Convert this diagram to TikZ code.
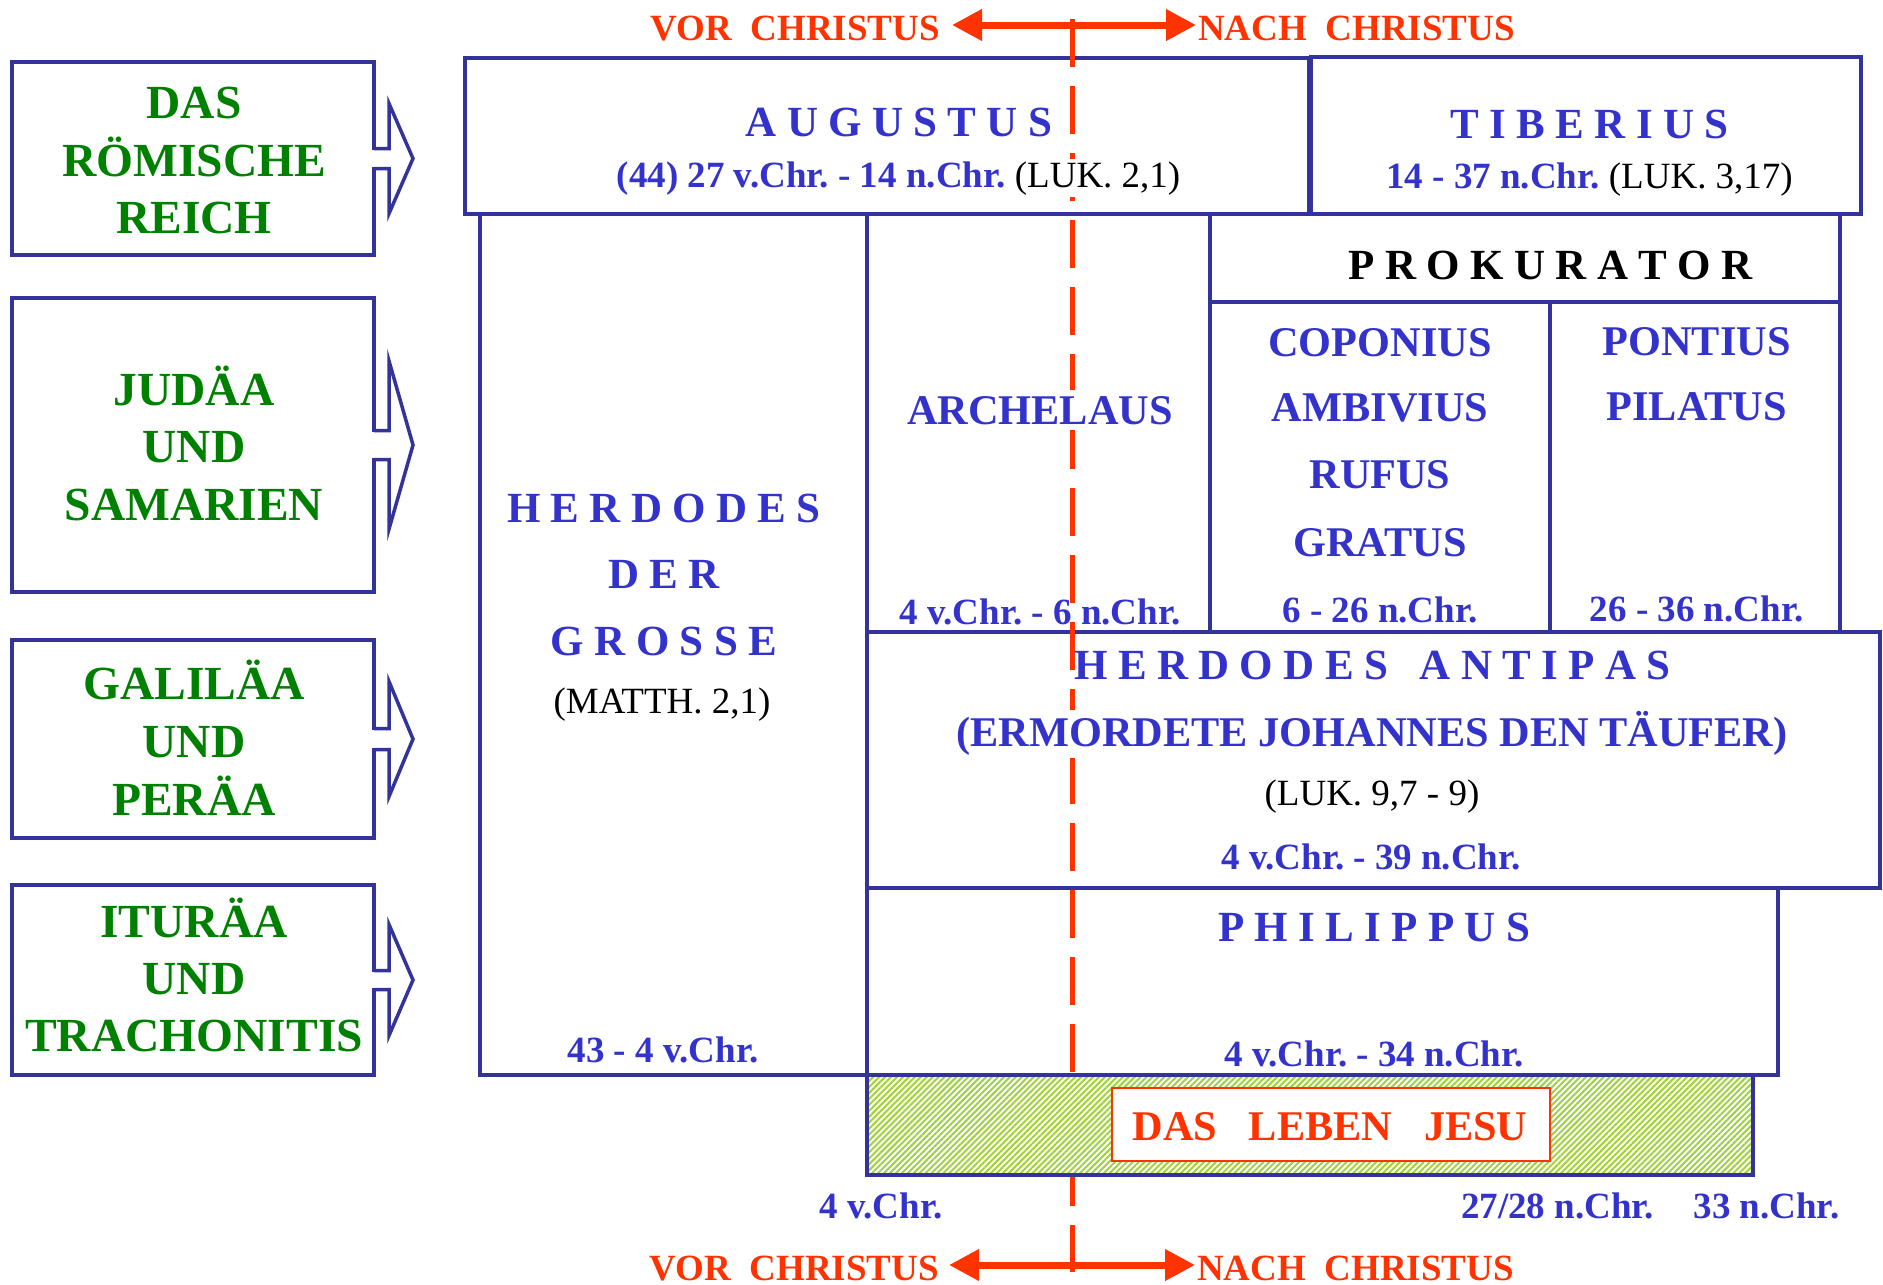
\documentclass[tikz,border=0pt]{standalone}
\usepackage{fontspec}
\setmainfont{Liberation Serif}
\usetikzlibrary{arrows.meta,patterns.meta,calc}
\definecolor{boxblue}{RGB}{51,51,153}
\definecolor{txtblue}{RGB}{51,51,204}
\definecolor{grn}{RGB}{0,128,0}
\definecolor{rd}{RGB}{255,51,0}
\definecolor{hatchc}{RGB}{160,210,60}
\frenchspacing
\def\spc#1{\spcA#1\relax}
\def\spcA#1{#1\spcB}
\def\spcB#1{\ifx#1\relax\else\hspace{0.24em}#1\expandafter\spcB\fi}
\newcommand\gbox[5]{\node[gridbox, anchor=north west, minimum width={(#4-#2)*1pt}, minimum height={(#5-#3)*1pt}] (#1) at (#2,#3) {};}
\newcommand\blockarrow[3]{%
  \fill[white] ($(#1.east)+(-2.5,-#2+1.75)$) rectangle ($(#1.east)+(16,#2-1.75)$);
  \draw[barrow] ($(#1.east)+(0,-#2)$) -- ($(#1.east)+(15,-#2)$) -- ($(#1.east)+(15,-#3)$) -- ($(#1.east)+(39,0)$) -- ($(#1.east)+(15,#3)$) -- ($(#1.east)+(15,#2)$) -- ($(#1.east)+(0,#2)$);}
\begin{document}
\begin{tikzpicture}[x=1pt,y=-1pt,
  gridbox/.style={draw=boxblue, line width=4pt, inner sep=0pt, outer sep=0pt},
  lbox/.style={draw=boxblue, line width=3.5pt, inner sep=0pt, outer sep=0pt},
  barrow/.style={draw=boxblue, line width=3.5pt, line join=miter},
  gtxt/.style={text=grn, font=\fontsize{47.5}{57}\selectfont\bfseries, anchor=base, inner sep=0pt},
  ttl/.style={text=txtblue, font=\fontsize{43}{50}\selectfont\bfseries, anchor=base, inner sep=0pt},
  nm/.style={text=txtblue, font=\fontsize{42.3}{50}\selectfont\bfseries, anchor=base, inner sep=0pt},
  dt/.style={text=txtblue, font=\fontsize{37}{44}\selectfont\bfseries, anchor=base, inner sep=0pt},
  rf/.style={text=black, font=\fontsize{37}{44}\selectfont, anchor=base, inner sep=0pt},
  rtxt/.style={text=rd, font=\fontsize{37}{44}\selectfont\bfseries, inner sep=0pt},
  ljtxt/.style={text=rd, font=\fontsize{42.3}{50}\selectfont\bfseries, anchor=base, inner sep=0pt},
  rarrow/.style={draw=rd, line width=7pt, arrows={Triangle[length=30pt,width=30pt]-Triangle[length=30pt,width=30pt]}},
  dline/.style={draw=rd, line width=5pt, dash pattern=on 48pt off 19pt}]
\useasboundingbox (0,0) rectangle (1883,1285);
% left boxes
\node[lbox, minimum width=362pt, minimum height=193pt] (b1) at (193,158.5) {};
\node[lbox, minimum width=362pt, minimum height=294pt] (b2) at (193,445) {};
\node[lbox, minimum width=362pt, minimum height=198pt] (b3) at (193,739) {};
\node[lbox, minimum width=362pt, minimum height=190pt] (b4) at (193,980) {};
\blockarrow{b1}{10}{55}
\blockarrow{b2}{14.5}{84}
\blockarrow{b3}{10.5}{57.5}
\blockarrow{b4}{9.5}{55.5}
\node[gtxt] (g1a) at (194,118.5) {DAS};
\node[gtxt] (g1b) at (194,176) {RÖMISCHE};
\node[gtxt] (g1c) at (194,233.5) {REICH};
\node[gtxt] (g2a) at (194,405.7) {JUDÄA};
\node[gtxt] (g2b) at (194,462.7) {UND};
\node[gtxt] (g2c) at (194,520) {SAMARIEN};
\node[gtxt] (g3a) at (194,699.7) {GALILÄA};
\node[gtxt] (g3b) at (194,757.7) {UND};
\node[gtxt] (g3c) at (194,815.7) {PERÄA};
\node[gtxt] (g4a) at (194,937) {ITURÄA};
\node[gtxt] (g4b) at (194,994) {UND};
\node[gtxt] (g4c) at (194,1051) {TRACHONITIS};
% grid
\gbox{aug}{465}{58}{1309}{214}
\gbox{tib}{1311}{57}{1861}{214}
\gbox{her}{480}{214}{867}{1075}
\gbox{arc}{867}{214}{1210}{632}
\gbox{pro}{1210}{214}{1840}{302}
\gbox{cop}{1210}{302}{1550}{632}
\gbox{pon}{1550}{302}{1840}{632}
\gbox{ant}{867}{632}{1880}{888}
\gbox{phi}{867}{888}{1778}{1075}
% time line
\coordinate (dtop) at (1072,19);
\coordinate (dbot) at (1072,1272);
\draw[dline] (dtop) -- (dbot);
% life of Jesus
\node[gridbox, anchor=north west, minimum width=886pt, minimum height=100pt,
  preaction={fill=white}, pattern={Lines[angle=45,distance=4.2pt,line width=2pt]}, pattern color=hatchc] (lj) at (867,1075) {};
\node[draw=rd, line width=2pt, fill=white, inner sep=0pt, outer sep=0pt, minimum width=438pt, minimum height=73pt] (ljin) at (1331,1124.5) {};
\node[ljtxt] (tLJ) at (1330,1140) {DAS\ \ \ LEBEN\ \ \ JESU};
% top and bottom labels
\node[rtxt, anchor=base east] (vor1) at (940,40) {VOR\ \ CHRISTUS};
\node[rtxt, anchor=base west] (nach1) at (1198,40) {NACH\ \ CHRISTUS};
\node[rtxt, anchor=base east] (vor2) at (939,1280) {VOR\ \ CHRISTUS};
\node[rtxt, anchor=base west] (nach2) at (1197,1280) {NACH\ \ CHRISTUS};
\coordinate (a1l) at (952,25);
\coordinate (a1r) at (1196,25);
\coordinate (a2l) at (949,1265);
\coordinate (a2r) at (1195,1265);
\draw[rarrow] (a1l) -- (a1r);
\draw[rarrow] (a2l) -- (a2r);
% texts in grid
\node[ttl] (tAug) at (899,136.5) {\spc{AUGUSTUS}};
\node[dt, fill=white, inner sep=2pt] (dAug) at (898.5,187) {(44) 27 v.Chr. - 14 n.Chr. {\mdseries\color{black}(LUK. 2,1)}};
\node[ttl] (tTib) at (1589.5,138.5) {\spc{TIBERIUS}};
\node[dt] (dTib) at (1589.5,188.5) {14 - 37 n.Chr. {\mdseries\color{black}(LUK. 3,17)}};
\node[ttl, text=black] (tPro) at (1550.6,279) {\spc{PROKURATOR}};
\node[ttl] (tHer1) at (664,522) {\spc{HERDODES}};
\node[ttl] (tHer2) at (664,588) {\spc{DER}};
\node[ttl] (tHer3) at (664,655) {\spc{GROSSE}};
\node[rf] (rHer) at (662,713) {(MATTH. 2,1)};
\node[dt] (dHer) at (663,1062) {43 - 4 v.Chr.};
\node[nm, fill=white, inner sep=6pt] (tArc) at (1040,424) {ARCHELAUS};
\node[dt] (dArc) at (1040,624) {4 v.Chr. - 6 n.Chr.};
\node[nm] (tCop1) at (1380,356) {COPONIUS};
\node[nm] (tCop2) at (1380,421.7) {AMBIVIUS};
\node[nm] (tCop3) at (1380,488.3) {RUFUS};
\node[nm] (tCop4) at (1380,556) {GRATUS};
\node[dt] (dCop) at (1380,622) {6 - 26 n.Chr.};
\node[nm] (tPon1) at (1696.6,355) {PONTIUS};
\node[nm] (tPon2) at (1696.6,420.7) {PILATUS};
\node[dt] (dPon) at (1696.6,621) {26 - 36 n.Chr.};
\node[ttl] (tAnt) at (1372.5,679) {\spc{HERDODES}\hspace{0.74em}\spc{ANTIPAS}};
\node[nm, fill=white, inner xsep=4pt, inner ysep=2pt] (tAnt2) at (1372,746.7) {(ERMORDETE JOHANNES DEN TÄUFER)};
\node[rf] (rAnt) at (1372,805) {(LUK. 9,7 - 9)};
\node[dt] (dAnt) at (1371,869.3) {4 v.Chr. - 39 n.Chr.};
\node[ttl] (tPhi) at (1374,941.7) {\spc{PHILIPPUS}};
\node[dt] (dPhi) at (1374,1066) {4 v.Chr. - 34 n.Chr.};
\node[dt] (y1) at (881,1218) {4 v.Chr.};
\node[dt] (y2) at (1557.6,1218) {27/28 n.Chr.};
\node[dt] (y3) at (1766.4,1218) {33 n.Chr.};
\end{tikzpicture}
\end{document}
